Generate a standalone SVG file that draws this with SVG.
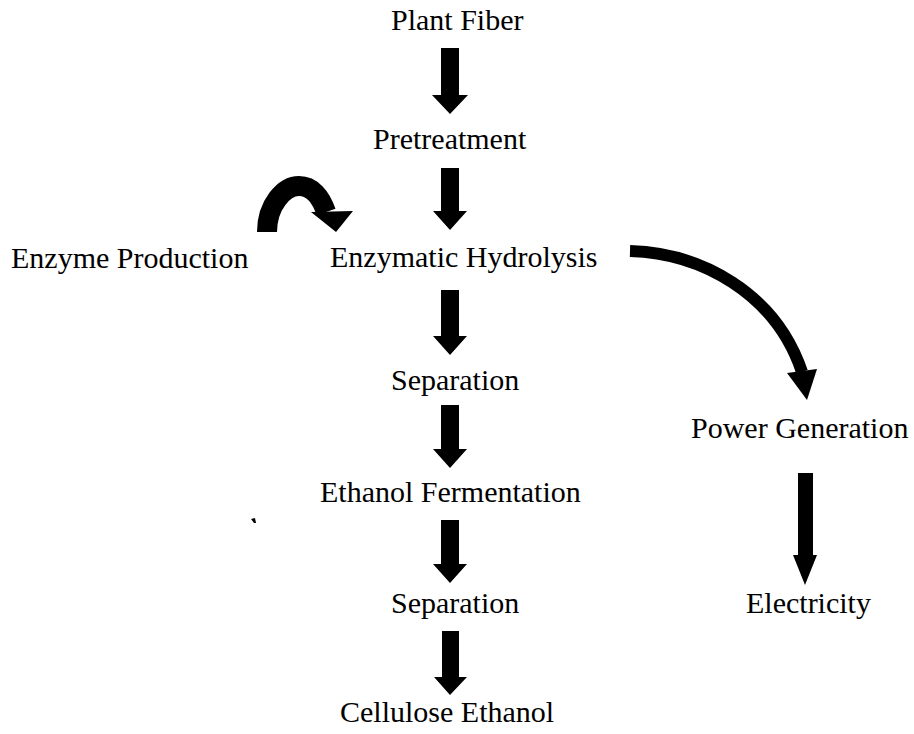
<svg xmlns="http://www.w3.org/2000/svg" width="914" height="734" viewBox="0 0 914 734">
<style>
.a{fill:#000}
.c{fill:none;stroke:#000}
</style>
<rect width="914" height="734" fill="#fff"/>
<g font-family="Liberation Serif, DejaVu Serif, serif" font-size="30" fill="#000">
<g id="plant-fiber"><text x="391" y="30">Plant Fiber</text></g>
<g id="pretreatment"><text x="373" y="149">Pretreatment</text></g>
<g id="enzyme-production"><text x="11" y="268">Enzyme Production</text></g>
<g id="enzymatic-hydrolysis"><text x="330" y="267">Enzymatic Hydrolysis</text></g>
<g id="separation-1"><text x="391" y="390">Separation</text></g>
<g id="power-generation"><text x="691" y="438">Power Generation</text></g>
<g id="ethanol-fermentation"><text x="320" y="502">Ethanol Fermentation</text></g>
<g id="separation-2"><text x="391" y="613">Separation</text></g>
<g id="electricity"><text x="746" y="613">Electricity</text></g>
<g id="cellulose-ethanol"><text x="340" y="722">Cellulose Ethanol</text></g>
</g>
<g id="connectors">
<polygon class="a" points="441,48 459,48 459,95 468,95 450,114 432,95 441,95"/>
<polygon class="a" points="441,168 459,168 459,211 467,211 450,230 433,211 441,211"/>
<polygon class="a" points="441,290 459,290 459,336 467,336 450,355 433,336 441,336"/>
<polygon class="a" points="441,405 459,405 459,449 467,449 450,468 433,449 441,449"/>
<polygon class="a" points="441,520 459,520 459,564 467,564 450,583 433,564 441,564"/>
<polygon class="a" points="442,631 459,631 459,677 467,677 450,695 434,677 442,677"/>
<polygon class="a" points="798,473 813,473 813,555 817,555 805,585 793,555 798,555"/>
<path class="c" d="M267,232 C267,205 284,186 299,186 C312,186 321,197 326,212" stroke-width="20"/>
<polygon class="a" points="311,212 353,211 336,232"/>
<path class="c" d="M630,251 C700,253 775,292 802,372" stroke-width="12"/>
<polygon class="a" points="787,373 817,369 807,400"/>
</g>
<path class="a" d="M251,519 L255,518 L256,523 L254,523 Z"/>
</svg>
